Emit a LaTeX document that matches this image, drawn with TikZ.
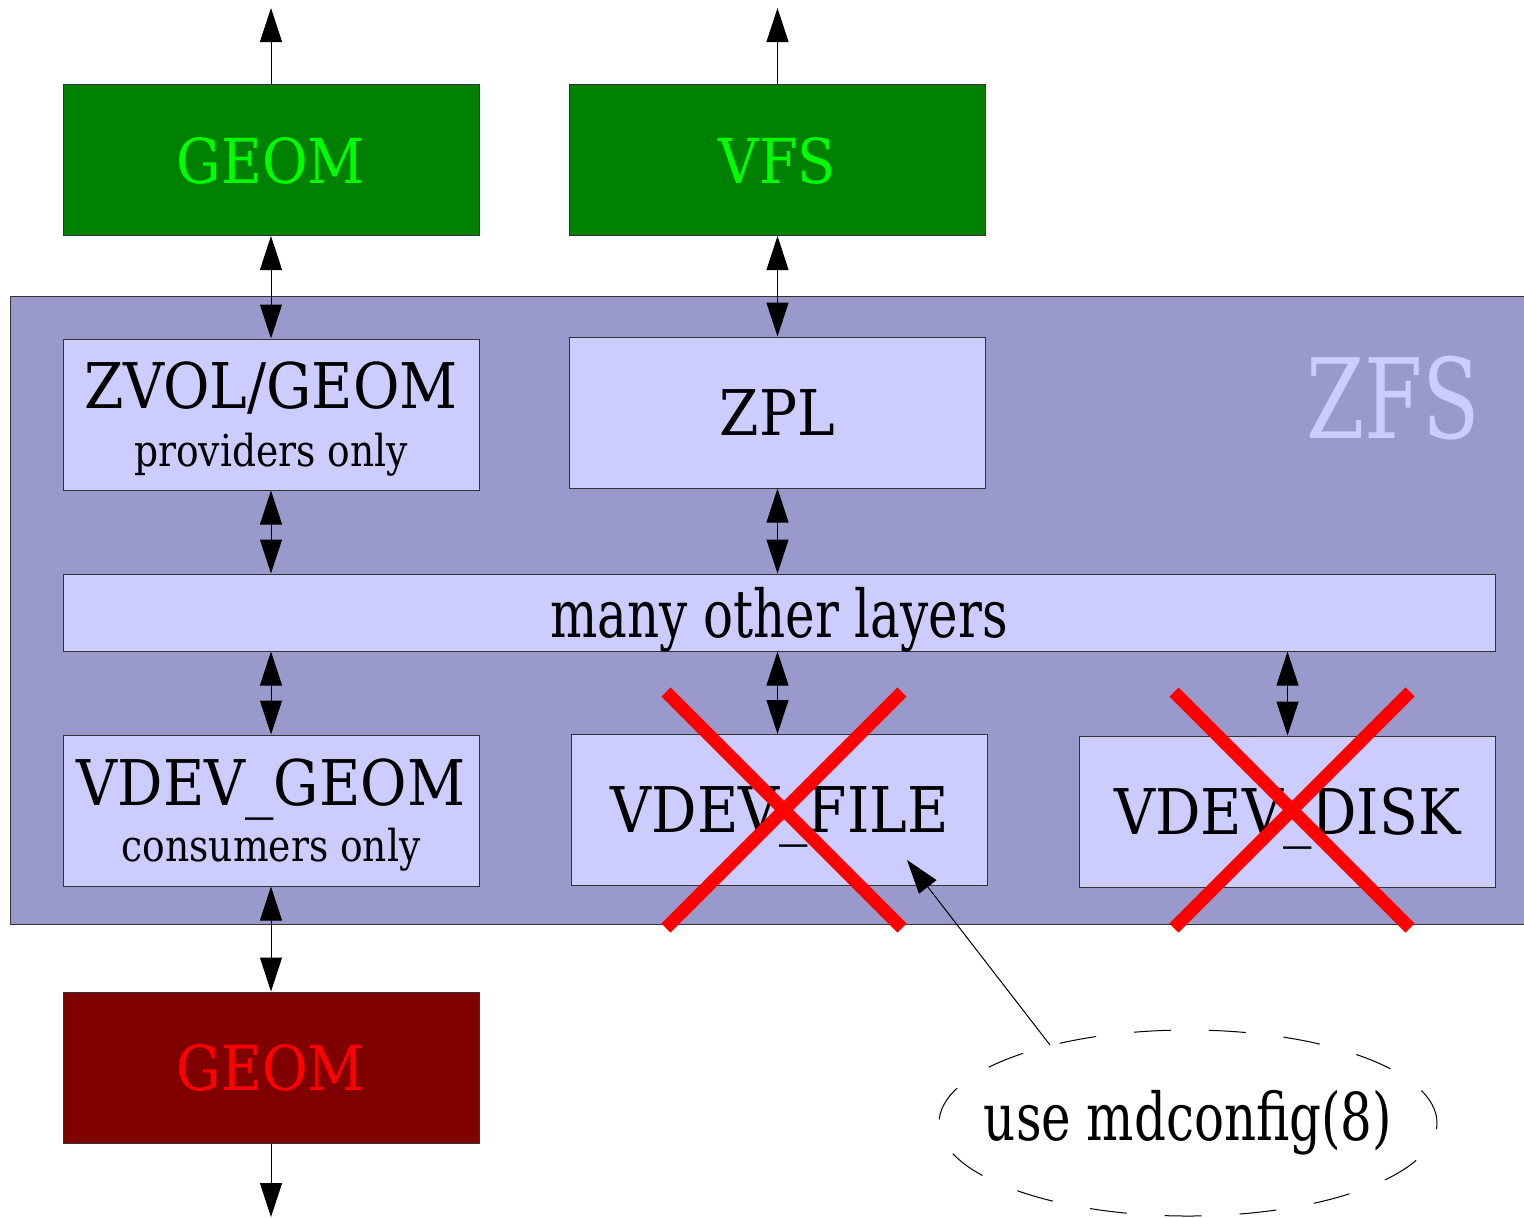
\documentclass[tikz,border=0pt]{standalone}
\usepackage{fontspec}
\setmainfont{DejaVu Serif Condensed}
\newfontfamily\narrowserif{DejaVu Serif Condensed}[FakeStretch=0.84]
\newfontfamily\noteserif{DejaVu Serif Condensed}[FakeStretch=0.95]
\usepackage{tikz}
\usetikzlibrary{positioning}
\usetikzlibrary{arrows.meta}
\usetikzlibrary{shapes}

\definecolor{zfsblue}{RGB}{153,153,204}
\definecolor{layerblue}{RGB}{204,204,255}
\definecolor{darkgreen}{RGB}{0,128,0}
\definecolor{darkred}{RGB}{128,0,0}

\tikzset{
  box/.style={draw=black!80, line width=0.5pt, inner sep=0pt,
    minimum width=208pt, minimum height=75.5pt, align=center, text depth=0pt},
  outer/.style={box, fill=darkgreen, text=green, font=\fontsize{31}{36}\selectfont},
  layer/.style={box, fill=layerblue, font=\fontsize{31.5}{29}\selectfont},
  dbl/.style={line width=0.5pt, {Triangle[length=17pt,width=11pt]}-{Triangle[length=17pt,width=11pt]}},
  sgl/.style={line width=0.5pt, -{Triangle[length=17pt,width=11pt]}},
  cross/.style={red, line width=6.5pt}
}

\begin{document}
\begin{tikzpicture}[x=0.5pt,y=-0.5pt]
    \useasboundingbox (0,0) rectangle (1524,1217);
    \clip (0,0) rectangle (1524,1217);

    % ZFS area
    \node[draw=black!80, line width=0.5pt, fill=zfsblue, inner sep=0pt,
          minimum width=760pt, minimum height=314pt] (zfs) at (770,610) {};
    \node[text=layerblue, font=\narrowserif\fontsize{55.5}{60}\selectfont] (zfslabel) at (1393,398) {ZFS};

    % Upper layers
    \node[outer] (geomtop) at (271,160) {GEOM};
    \node[outer] (vfs) at (777.5,160) {VFS};
    \coordinate (geomup) at (271,8);
    \coordinate (vfsup) at (777.5,8);
    \draw[sgl] (geomtop.north) -- (geomup);
    \draw[sgl] (vfs.north) -- (vfsup);

    % Inside ZFS
    \node[layer] (zvol) at (271,414.5) {ZVOL/GEOM\\{\noteserif\fontsize{22}{29}\selectfont providers only}};
    \node[layer] (zpl) at (777.5,412.5) {ZPL};
    \node[layer, minimum width=716pt, minimum height=38.5pt,
          font=\narrowserif\fontsize{33}{36}\selectfont] (many) at (779,612.5) {many other layers};
    \node[layer, font=\fontsize{31.5}{28}\selectfont] (vgeom) at (271,810.5) {VDEV\_GEOM\\{\noteserif\fontsize{22}{28}\selectfont consumers only}};
    \node[layer] (vfile) at (779.5,810) {VDEV\_FILE};
    \node[layer] (vdisk) at (1287.5,811.5) {VDEV\_DISK};

    \draw[dbl] (geomtop.south) -- (zvol.north);
    \draw[dbl] (vfs.south) -- (zpl.north);
    \draw[dbl] (zvol.south) -- (zvol.south |- many.north);
    \draw[dbl] (zpl.south) -- (zpl.south |- many.north);
    \draw[dbl] (vgeom.north |- many.south) -- (vgeom.north);
    \draw[dbl] (zpl.south |- many.south) -- (zpl.south |- vfile.north);
    \draw[dbl] (vdisk.north |- many.south) -- (vdisk.north);

    % Crossed out
    \draw[cross] (666,692) -- (902,928);
    \draw[cross] (902,692) -- (666,928);
    \draw[cross] (1174,692) -- (1410,928);
    \draw[cross] (1410,692) -- (1174,928);

    % Lower layer
    \node[outer, fill=darkred, text=red] (geombot) at (271,1067.5) {GEOM};
    \coordinate (geomdown) at (271,1217);
    \draw[dbl] (vgeom.south) -- (geombot.north);
    \draw[sgl] (geombot.south) -- (geomdown);

    % Note
    \node[ellipse, draw, line width=0.5pt, dash pattern=on 18.5pt off 19pt,
          minimum width=249pt, minimum height=93pt, inner xsep=-15pt, inner ysep=0pt,
          font=\narrowserif\fontsize{33}{38}\selectfont] (note) at (1188,1123) {use mdconfig(8)};
    \coordinate (notefrom) at (1050,1045);
    \coordinate (notetip) at (907,860);
    \draw[sgl] (notefrom) -- (notetip);
\end{tikzpicture}
\end{document}
